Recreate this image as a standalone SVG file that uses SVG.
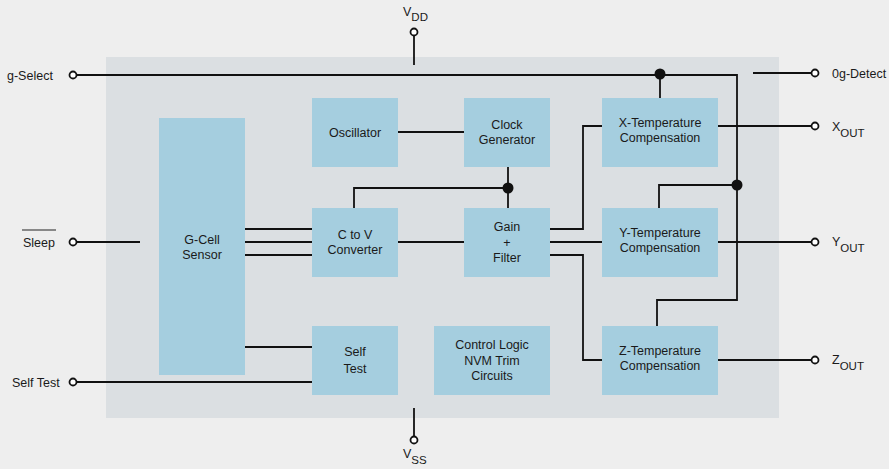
<svg xmlns="http://www.w3.org/2000/svg" width="889" height="469" viewBox="0 0 889 469">
<style>
.box{fill:#a5cedf}
.t{font-family:"Liberation Sans",Arial,sans-serif;font-size:12.5px;fill:#1a1a1a;text-anchor:middle}
.l{font-family:"Liberation Sans",Arial,sans-serif;font-size:12.5px;fill:#1a1a1a}
.w{fill:none;stroke:#111;stroke-width:1.8}
.pin{fill:#fff;stroke:#111;stroke-width:1.8}
.dot{fill:#111}
</style>
<rect width="889" height="469" fill="#eeeeee"/>
<rect x="106" y="57" width="673" height="361" fill="#dbdfe2"/>

<g id="connectors">
<path class="w" d="M73 75H737V300H657V326"/>
<path class="w" d="M660 74V98"/>
<path class="w" d="M737 185H659V208"/>
<path class="w" d="M753 73H815"/>
<path class="w" d="M414 32V65"/>
<path class="w" d="M718 126H815"/>
<path class="w" d="M718 242H815"/>
<path class="w" d="M718 360H815"/>
<path class="w" d="M398 132H464"/>
<path class="w" d="M508 167V208"/>
<path class="w" d="M508 188H354V208"/>
<path class="w" d="M245 229H312M245 242H312M245 255H312"/>
<path class="w" d="M398 242H464"/>
<path class="w" d="M550 229H583V126H602"/>
<path class="w" d="M550 242H602"/>
<path class="w" d="M550 255H583V360H602"/>
<path class="w" d="M73 242H140"/>
<path class="w" d="M73 382H312"/>
<path class="w" d="M245 347H312"/>
<path class="w" d="M414 408V440"/>
<circle class="dot" cx="660" cy="74" r="5.5"/>
<circle class="dot" cx="737" cy="185" r="5.5"/>
<circle class="dot" cx="508" cy="188" r="5.5"/>
<circle class="pin" cx="73" cy="75" r="3.5"/>
<circle class="pin" cx="73" cy="242" r="3.5"/>
<circle class="pin" cx="73" cy="382" r="3.5"/>
<circle class="pin" cx="815" cy="73" r="3.5"/>
<circle class="pin" cx="815" cy="126" r="3.5"/>
<circle class="pin" cx="815" cy="242" r="3.5"/>
<circle class="pin" cx="815" cy="360" r="3.5"/>
<circle class="pin" cx="414" cy="32" r="3.5"/>
<circle class="pin" cx="414" cy="440" r="3.5"/>
</g>

<g id="gcell"><rect class="box" x="159" y="118" width="86" height="257"/>
<text class="t" x="202" y="244">G-Cell</text><text class="t" x="202" y="259">Sensor</text></g>
<g id="oscillator"><rect class="box" x="312" y="98" width="86" height="69"/>
<text class="t" x="355" y="137">Oscillator</text></g>
<g id="clock"><rect class="box" x="464" y="98" width="86" height="69"/>
<text class="t" x="507" y="129">Clock</text><text class="t" x="507" y="144">Generator</text></g>
<g id="ctov"><rect class="box" x="312" y="208" width="86" height="69"/>
<text class="t" x="355" y="239">C to V</text><text class="t" x="355" y="254">Converter</text></g>
<g id="gain"><rect class="box" x="464" y="208" width="86" height="69"/>
<text class="t" x="507" y="231">Gain</text><text class="t" x="507" y="247">+</text><text class="t" x="507" y="262">Filter</text></g>
<g id="xtemp"><rect class="box" x="602" y="98" width="116" height="69"/>
<text class="t" x="660" y="127">X-Temperature</text><text class="t" x="660" y="142">Compensation</text></g>
<g id="ytemp"><rect class="box" x="602" y="208" width="116" height="69"/>
<text class="t" x="660" y="237">Y-Temperature</text><text class="t" x="660" y="252">Compensation</text></g>
<g id="ztemp"><rect class="box" x="602" y="326" width="116" height="69"/>
<text class="t" x="660" y="355">Z-Temperature</text><text class="t" x="660" y="370">Compensation</text></g>
<g id="selftest"><rect class="box" x="312" y="326" width="86" height="69"/>
<text class="t" x="355" y="356">Self</text><text class="t" x="355" y="373">Test</text></g>
<g id="control"><rect class="box" x="434" y="326" width="116" height="69"/>
<text class="t" x="492" y="349">Control Logic</text><text class="t" x="492" y="365">NVM Trim</text><text class="t" x="492" y="380">Circuits</text></g>

<g id="labels">
<text class="l" x="7" y="80">g-Select</text>
<text class="l" x="23" y="247">Sleep</text>
<path d="M22 230H56" stroke="#222" stroke-width="1"/>
<text class="l" x="12" y="387">Self Test</text>
<text class="l" x="832" y="78">0g-Detect</text>
<text class="l" x="832" y="131">X<tspan font-size="11.5" dy="6">OUT</tspan></text>
<text class="l" x="832" y="246">Y<tspan font-size="11.5" dy="6">OUT</tspan></text>
<text class="l" x="832" y="364">Z<tspan font-size="11.5" dy="6">OUT</tspan></text>
<text class="l" x="403" y="16">V<tspan font-size="11.5" dy="5">DD</tspan></text>
<text class="l" x="403" y="458">V<tspan font-size="11.5" dy="6">SS</tspan></text>
</g>
</svg>
